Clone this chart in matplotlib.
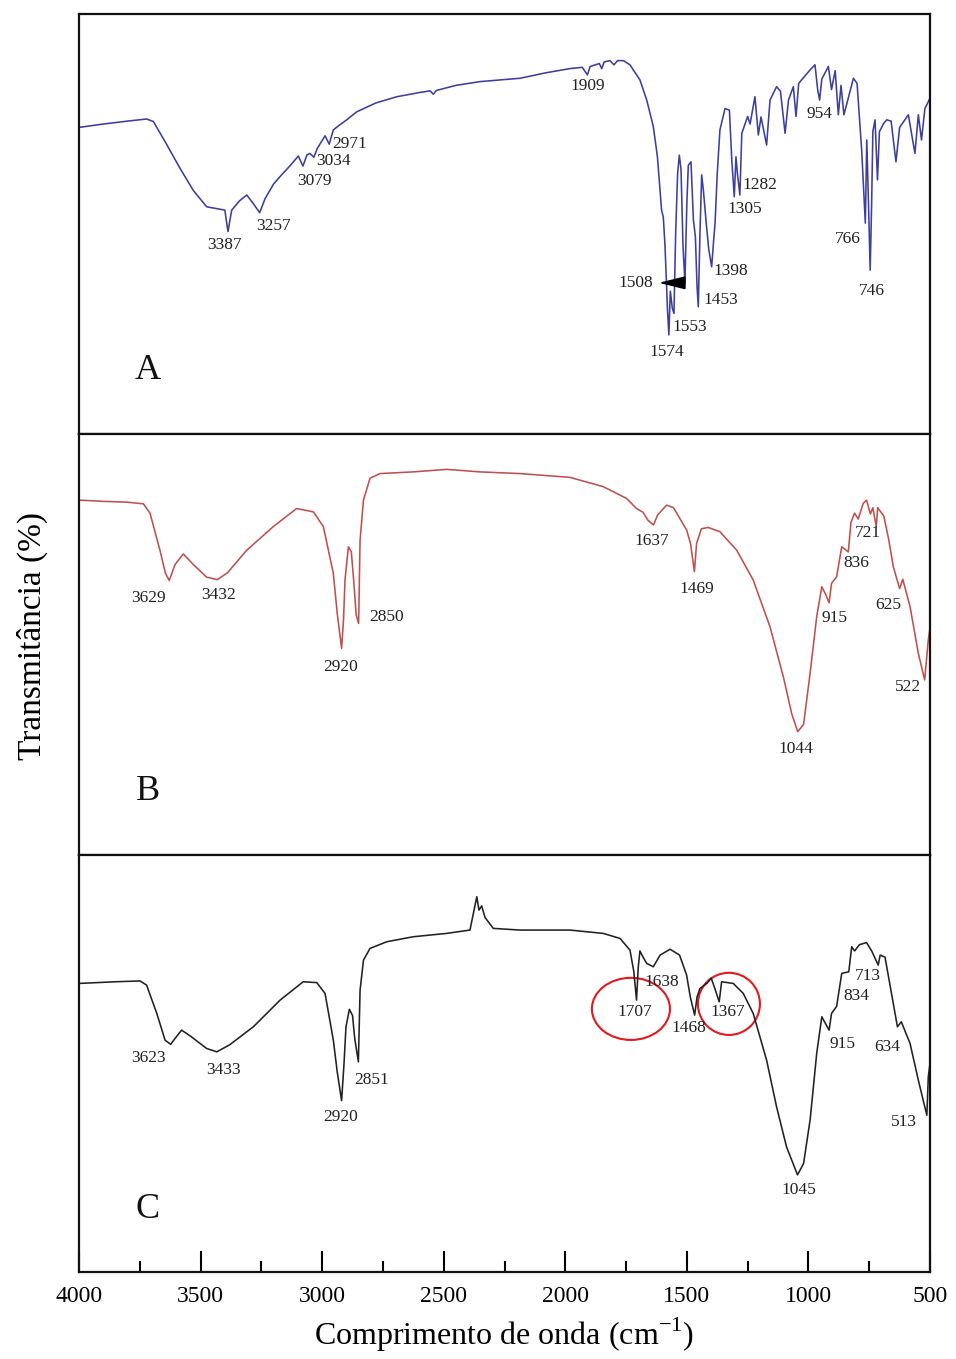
import matplotlib
matplotlib.use("Agg")
import matplotlib.pyplot as plt
from matplotlib.patches import Ellipse

plt.rcParams['font.family'] = ['Liberation Serif', 'DejaVu Serif']
plt.rcParams['mathtext.fontset'] = 'custom'
plt.rcParams['mathtext.rm'] = 'Liberation Serif'

# ---- spectrum A (wavenumber cm-1, transmittance a.u.) ----
wn_a = [4000, 3900, 3800, 3722, 3694, 3640, 3585, 3530, 3475, 3420, 3400, 3392, 3387, 3382,
        3372, 3340, 3310, 3285, 3257, 3235, 3200, 3173, 3130, 3098, 3079, 3062, 3050, 3034,
        3020, 2988, 2971, 2954, 2930, 2899, 2858, 2780, 2693, 2600, 2556, 2543, 2530, 2450,
        2351, 2186, 2080, 1981, 1930, 1909, 1898, 1860, 1850, 1840, 1816, 1800, 1785, 1761,
        1734, 1693, 1665, 1638, 1621, 1604, 1597, 1590, 1580, 1574, 1568, 1560, 1553, 1546,
        1538, 1531, 1524, 1516, 1508, 1500, 1494, 1483, 1473, 1465, 1458, 1453, 1446, 1439,
        1432, 1420, 1410, 1398, 1390, 1384, 1375, 1364, 1343, 1325, 1315, 1305, 1298, 1292,
        1282, 1274, 1250, 1240, 1220, 1206, 1195, 1172, 1158, 1131, 1115, 1096, 1082, 1062,
        1051, 1040, 993, 973, 962, 954, 945, 918, 905, 890, 877, 866, 854, 815, 800, 790,
        781, 766, 760, 753, 746, 740, 735, 726, 716, 708, 690, 678, 660, 640, 625, 589, 562,
        548, 535, 521, 507, 500]
tr_a = [73.0, 73.8, 74.5, 75.0, 74.4, 69.0, 63.3, 58.0, 54.1, 53.5, 53.3, 50.0, 48.2, 50.0,
        53.3, 55.5, 56.9, 55.0, 52.7, 56.0, 59.5, 61.3, 64.0, 66.2, 63.8, 66.5, 66.8, 65.9,
        68.0, 71.0, 69.0, 72.4, 73.5, 74.8, 76.7, 78.8, 80.3, 81.3, 81.7, 80.9, 81.8, 83.0,
        83.9, 84.7, 86.0, 87.0, 87.3, 85.5, 87.5, 88.2, 87.0, 88.6, 88.9, 87.9, 88.9, 88.9,
        87.9, 84.3, 79.5, 73.2, 66.0, 53.3, 51.7, 45.0, 30.0, 23.6, 34.0, 30.0, 28.7, 48.0,
        62.0, 66.4, 63.0, 45.0, 36.0, 55.0, 64.0, 64.8, 51.0, 47.0, 35.0, 30.3, 48.0, 61.7,
        58.0, 50.0, 44.0, 39.8, 46.0, 50.2, 62.0, 72.4, 77.5, 77.1, 65.0, 56.5, 66.0, 62.0,
        56.9, 71.6, 75.6, 73.8, 80.3, 71.2, 75.5, 68.8, 79.5, 82.7, 81.6, 71.6, 79.5, 82.7,
        75.6, 83.5, 86.7, 87.9, 82.0, 79.5, 84.5, 87.5, 82.0, 86.5, 76.0, 83.0, 76.0, 84.7,
        83.5, 75.0, 67.6, 50.2, 70.0, 55.0, 39.0, 55.0, 72.0, 74.8, 60.5, 72.0, 74.0, 74.8,
        74.5, 64.8, 73.0, 76.0, 66.8, 76.0, 70.0, 77.5, 79.1, 80.0]

# ---- spectrum B ----
wn_b = [4000, 3900, 3800, 3735, 3708, 3667, 3645, 3629, 3605, 3571, 3530, 3475, 3432, 3390,
        3310, 3201, 3105, 3036, 2995, 2954, 2938, 2920, 2912, 2906, 2892, 2880, 2870, 2860,
        2850, 2844, 2830, 2803, 2762, 2625, 2488, 2351, 2186, 1981, 1844, 1748, 1707, 1680,
        1660, 1637, 1620, 1583, 1555, 1501, 1485, 1469, 1460, 1440, 1412, 1364, 1295, 1227,
        1158, 1103, 1069, 1044, 1020, 993, 966, 945, 930, 915, 905, 884, 863, 836, 825, 810,
        795, 775, 761, 745, 735, 721, 715, 690, 670, 651, 625, 612, 582, 548, 522, 507, 500]
tr_b = [84.3, 84.0, 83.8, 83.4, 81.2, 72.4, 67.0, 65.2, 69.0, 71.5, 69.0, 66.0, 65.4, 67.0,
        72.4, 78.0, 82.3, 81.5, 78.0, 66.9, 57.4, 49.1, 56.0, 65.3, 73.2, 72.0, 65.0, 57.0,
        55.0, 74.8, 84.3, 89.5, 90.6, 91.0, 91.6, 91.0, 90.6, 89.7, 87.5, 84.7, 82.3, 81.4,
        79.5, 78.4, 80.8, 83.1, 82.5, 77.2, 74.0, 67.3, 74.0, 77.5, 77.8, 76.8, 72.4, 65.3,
        54.2, 42.3, 33.6, 29.3, 31.0, 43.2, 56.6, 63.7, 62.0, 59.9, 64.5, 66.1, 73.2, 72.0,
        79.0, 81.2, 79.8, 83.5, 84.3, 81.0, 82.5, 78.0, 82.5, 80.5, 75.0, 68.5, 63.3, 65.5,
        59.0, 47.9, 41.6, 51.1, 54.0]

# ---- spectrum C ----
wn_c = [4000, 3850, 3749, 3722, 3680, 3646, 3623, 3605, 3578, 3540, 3475, 3433, 3380, 3283,
        3173, 3078, 3022, 2988, 2954, 2938, 2920, 2910, 2902, 2888, 2875, 2866, 2851, 2844,
        2830, 2803, 2734, 2625, 2488, 2392, 2378, 2364, 2355, 2344, 2330, 2296, 2186, 1981,
        1844, 1775, 1734, 1718, 1707, 1700, 1693, 1680, 1665, 1638, 1610, 1569, 1530, 1501,
        1486, 1468, 1458, 1446, 1418, 1400, 1385, 1367, 1357, 1309, 1268, 1227, 1172, 1131,
        1090, 1045, 1020, 993, 966, 945, 915, 905, 884, 863, 834, 822, 810, 790, 761, 740,
        713, 705, 685, 651, 634, 618, 582, 548, 513, 507, 500]
tr_c = [69.2, 69.6, 69.8, 68.8, 62.0, 55.6, 54.6, 56.0, 58.0, 56.5, 53.6, 52.8, 54.5, 58.8,
        65.2, 69.6, 69.4, 66.8, 55.6, 48.0, 41.1, 50.0, 58.8, 63.0, 61.5, 56.0, 50.4, 67.6,
        74.8, 77.6, 79.2, 80.4, 81.2, 82.0, 86.0, 90.0, 86.8, 87.8, 85.0, 82.4, 82.0, 82.0,
        81.2, 80.0, 77.2, 72.0, 65.2, 73.0, 77.0, 75.5, 74.0, 73.2, 76.0, 77.4, 76.0, 71.2,
        66.0, 61.6, 66.0, 68.0, 69.2, 70.5, 68.0, 64.8, 69.6, 69.2, 66.8, 62.0, 50.8, 39.6,
        30.0, 23.3, 26.0, 36.5, 52.4, 61.2, 58.0, 62.0, 63.7, 71.6, 72.0, 78.0, 77.0, 78.5,
        79.0, 77.0, 73.6, 76.0, 75.5, 64.4, 58.8, 60.0, 54.8, 46.0, 37.6, 46.8, 50.0]

# peak labels: (text, label x, label y)
labels_a = [('3387', 3400, 45.0), ('3257', 3202, 49.5), ('3079', 3033, 60.2),
            ('3034', 2955, 65.0), ('2971', 2885, 69.0), ('1909', 1907, 82.9),
            ('1574', 1582, 19.5), ('1553', 1487, 25.5), ('1453', 1360, 31.9),
            ('1398', 1318, 38.8), ('1305', 1261, 53.6), ('1282', 1199, 59.3),
            ('954', 956, 76.2), ('766', 837, 46.4), ('746', 738, 34.0)]
labels_b = [('3629', 3716, 61.0), ('3432', 3428, 61.8), ('2920', 2922, 44.7),
            ('2850', 2737, 56.5), ('1637', 1643, 74.6), ('1469', 1458, 63.2),
            ('1044', 1051, 25.2), ('915', 891, 56.3), ('836', 804, 69.4),
            ('721', 755, 76.5), ('625', 673, 59.4), ('522', 590, 39.9)]
labels_c = [('3623', 3716, 51.3), ('3433', 3404, 48.4), ('2920', 2922, 37.2),
            ('2851', 2795, 46.0), ('1707', 1713, 62.4), ('1638', 1602, 69.5),
            ('1468', 1491, 58.5), ('1367', 1331, 62.4), ('1045', 1039, 19.7),
            ('915', 858, 54.7), ('834', 804, 66.2), ('713', 755, 71.0),
            ('634', 677, 54.0), ('513', 607, 36.0)]

fig = plt.figure(figsize=(9.56, 13.59), dpi=100)
left, width = 79 / 956, 851 / 956
tops = [14, 434, 855, 1272]

panels = [(wn_a, tr_a, labels_a, '#3d3f9e', 'A'),
          (wn_b, tr_b, labels_b, '#c0504d', 'B'),
          (wn_c, tr_c, labels_c, '#222222', 'C')]

axes = []
for i, (wn, tr, labs, col, letter) in enumerate(panels):
    y0 = 1 - tops[i + 1] / 1359
    h = (tops[i + 1] - tops[i]) / 1359
    ax = fig.add_axes([left, y0, width, h])
    ax.plot(wn, tr, color=col, lw=1.15)
    ax.set_xlim(4000, 500)
    ax.set_ylim(0, 100)
    ax.set_yticks([])
    for s in ax.spines.values():
        s.set_linewidth(1.6)
        s.set_color('#111111')
    for txt, x, y in labs:
        ax.text(x, y, txt, ha='center', va='center', fontsize=12.5, color='#222222')
    ax.text(3716, 15, letter, ha='center', va='center', fontsize=26, color='#111111')
    if i < 2:
        ax.set_xticks([])
    axes.append(ax)

# arrow label for the 1508 band
axes[0].annotate('1508', xy=(1508, 36), xytext=(1709, 36), ha='center', va='center',
                 fontsize=12.5, color='#222222',
                 arrowprops=dict(arrowstyle='<|-,head_length=1.8,head_width=0.45',
                                 mutation_scale=9, color='black', lw=1.2,
                                 shrinkA=2, shrinkB=0))

# circled bands in spectrum C
axc = axes[2]
axc.add_patch(Ellipse((1730, 63.1), 321, 14.9, fill=False, edgecolor='#e3191c', lw=1.5))
axc.add_patch(Ellipse((1327, 64.3), 255, 14.9, fill=False, edgecolor='#e3191c', lw=1.5))

axc.set_xticks([4000, 3500, 3000, 2500, 2000, 1500, 1000, 500])
axc.set_xticks([3750, 3250, 2750, 2250, 1750, 1250, 750], minor=True)
axc.tick_params(axis='x', which='major', direction='in', length=15, width=1.5,
                labelsize=17, pad=10, top=False)
axc.tick_params(axis='x', which='minor', direction='in', length=8, width=1.5, top=False)
axc.set_xlabel(r'Comprimento de onda (cm$^{-1}$)', fontsize=23, labelpad=6)

fig.text(32 / 956, 1 - 636 / 1359, 'Transmitância (%)', rotation=90,
         ha='center', va='center', fontsize=24)

fig.savefig('out.png', dpi=100)
